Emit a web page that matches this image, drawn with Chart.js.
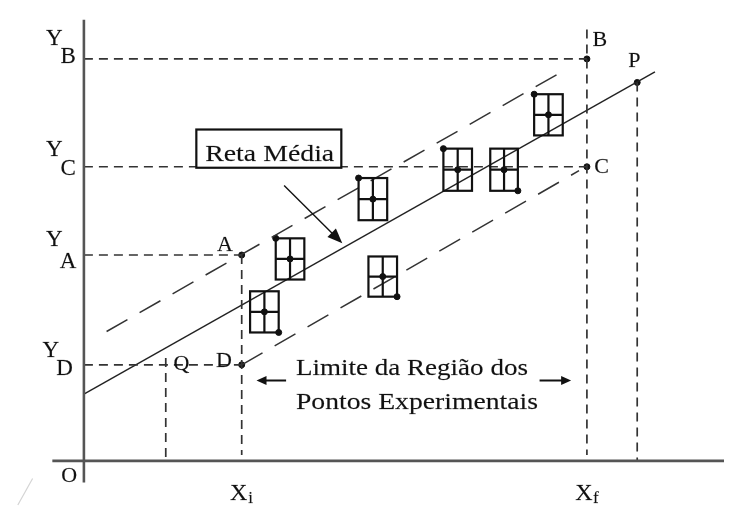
<!DOCTYPE html>
<html lang="pt">
<head>
<meta charset="UTF-8">
<title>Reta Média</title>
<script src="https://cdn.jsdelivr.net/npm/chart.js"></script>
<style>
    body { margin: 0; background: #fff; }
    canvas { display: block; }
</style>
</head>
<body>
<canvas id="chart" width="729" height="511"></canvas>
<script>
// experimental points (centre) with their uncertainty half-widths
const pointX = [18.3, 20.9, 29.3, 30.3, 37.9, 42.6, 47.1];
const pointY = [15.2, 20.6, 26.7, 18.8, 29.7, 29.7, 35.3];
const errX = [1.45, 1.45, 1.45, 1.45, 1.45, 1.4, 1.45];
const errY = [2.1, 2.1, 2.15, 2.05, 2.15, 2.15, 2.1];
const cornerDot = ['br', 'tl', 'tl', 'br', 'tl', 'br', 'tl'];

// levels marked on the y axis, limits on the x axis
const levelNames = ['B', 'C', 'A', 'D'];
const levelY = [41, 30, 21, 9.8];
const levelEndX = [51, 51, 16, 16];
const limitNames = ['i', 'f'];
const limitX = [16, 51];
const limitTopY = [21, 44];

// mean line y = a + b*x and the two extreme lines
const meanA = 6.8;
const meanB = 0.568;
const meanRange = [0, 57.9];
const upperX = [2.3, 49.0];
const upperY = [13.2, 40.0];
const lowerX = [16, 50.2];
const lowerY = [9.8, 29.6];

// extra points P and Q
const extraNames = ['P', 'Q'];
const extraX = [56.1, 8.3];
const extraY = [38.6, 9.8];
const extraTopY = [38.6, 10.5];

const INK = '#111';
const DASH = '#333';
const SERIF = "'Liberation Serif', 'Times New Roman', serif";

function seg(points, opts) {
    return Object.assign({
        data: points,
        showLine: true,
        pointRadius: 0,
        borderColor: DASH,
        borderWidth: 1.7,
        fill: false,
        tension: 0
    }, opts || {});
}

const datasets = [];

// axes
datasets.push(seg([{x: -3.2, y: 0}, {x: 64.9, y: 0}], {borderColor: '#555', borderWidth: 2.6}));
datasets.push(seg([{x: 0, y: -2.2}, {x: 0, y: 45}], {borderColor: '#555', borderWidth: 2.6}));

// horizontal guides from the y axis
levelY.forEach((v, i) => {
    datasets.push(seg([{x: 0, y: v}, {x: levelEndX[i], y: v}], {borderDash: [9, 6]}));
});
// vertical guides down to the x axis
limitX.forEach((v, i) => {
    datasets.push(seg([{x: v, y: limitTopY[i]}, {x: v, y: 0.6}], {borderDash: [9, 6]}));
});
extraX.forEach((v, i) => {
    datasets.push(seg([{x: v, y: extraTopY[i]}, {x: v, y: 0}], {borderDash: [9, 6]}));
});

// extreme lines (dashed) and mean line (solid)
datasets.push(seg(upperX.map((v, i) => ({x: v, y: upperY[i]})), {borderDash: [24, 14], borderWidth: 1.5}));
datasets.push(seg(lowerX.map((v, i) => ({x: v, y: lowerY[i]})), {borderDash: [24, 14], borderWidth: 1.5}));
datasets.push(seg(meanRange.map(v => ({x: v, y: meanA + meanB * v})), {borderColor: '#222', borderWidth: 1.4}));

// faint scan mark at the bottom left
datasets.push(seg([{x: -5.2, y: -1.8}, {x: -6.7, y: -4.5}], {borderColor: '#d4d4d4', borderWidth: 1.2}));

// centres of the experimental points
datasets.push({
    data: pointX.map((v, i) => ({x: v, y: pointY[i]})),
    pointRadius: 3, backgroundColor: INK, borderColor: INK
});
// corner dots of the uncertainty boxes
datasets.push({
    data: pointX.map((v, i) => ({
        x: cornerDot[i] === 'br' ? v + errX[i] : v - errX[i],
        y: cornerDot[i] === 'br' ? pointY[i] - errY[i] : pointY[i] + errY[i]
    })),
    pointRadius: 3, backgroundColor: INK, borderColor: INK
});
// A, B, C, D and P
datasets.push({
    data: [
        {x: levelEndX[2], y: levelY[2]}, {x: levelEndX[0], y: levelY[0]},
        {x: levelEndX[1], y: levelY[1]}, {x: levelEndX[3], y: levelY[3]},
        {x: extraX[0], y: extraY[0]}
    ],
    pointRadius: 3, backgroundColor: INK, borderColor: INK
});

function arrow(ctx, x1, y1, x2, y2, len, half) {
    const a = Math.atan2(y2 - y1, x2 - x1);
    ctx.beginPath();
    ctx.moveTo(x1, y1);
    ctx.lineTo(x2 - Math.cos(a) * len * 0.6, y2 - Math.sin(a) * len * 0.6);
    ctx.stroke();
    ctx.beginPath();
    ctx.moveTo(x2, y2);
    ctx.lineTo(x2 - Math.cos(a) * len - Math.sin(a) * half, y2 - Math.sin(a) * len + Math.cos(a) * half);
    ctx.lineTo(x2 - Math.cos(a) * len + Math.sin(a) * half, y2 - Math.sin(a) * len - Math.cos(a) * half);
    ctx.closePath();
    ctx.fill();
}

// text stretched to the width it has in the scan
function fitText(ctx, text, x, y, width) {
    const w = ctx.measureText(text).width;
    ctx.save();
    ctx.translate(x, y);
    ctx.scale(width / w, 1);
    ctx.fillText(text, 0, 0);
    ctx.strokeText(text, 0, 0);
    ctx.restore();
}

const sketch = {
    id: 'sketch',
    beforeDraw(chart) {
        const ctx = chart.ctx;
        ctx.save();
        ctx.fillStyle = '#fff';
        ctx.fillRect(0, 0, chart.width, chart.height);
        ctx.restore();
    },
    afterDatasetsDraw(chart) {
        const ctx = chart.ctx;
        const px = v => chart.scales.x.getPixelForValue(v);
        const py = v => chart.scales.y.getPixelForValue(v);
        ctx.save();

        // uncertainty boxes with a cross through the centre
        ctx.strokeStyle = INK;
        ctx.lineWidth = 2.2;
        pointX.forEach((cx, i) => {
            const l = px(cx - errX[i]), r = px(cx + errX[i]);
            const t = py(pointY[i] + errY[i]), b = py(pointY[i] - errY[i]);
            ctx.strokeRect(l, t, r - l, b - t);
            ctx.beginPath();
            ctx.moveTo(px(cx), t); ctx.lineTo(px(cx), b);
            ctx.moveTo(l, py(pointY[i])); ctx.lineTo(r, py(pointY[i]));
            ctx.stroke();
        });

        // "Reta Média" label box and its arrow
        const bl = px(11.4), br = px(26.1), bt = py(33.8), bb = py(29.9);
        ctx.fillStyle = '#fff';
        ctx.fillRect(bl, bt, br - bl, bb - bt);
        ctx.lineWidth = 2.2;
        ctx.strokeRect(bl, bt, br - bl, bb - bt);
        ctx.fillStyle = INK;
        ctx.strokeStyle = 'rgba(17,17,17,0.45)';
        ctx.textBaseline = 'alphabetic';
        ctx.textAlign = 'left';
        ctx.font = "24px " + SERIF;
        ctx.lineWidth = 0.3;
        fitText(ctx, 'Reta Média', px(12.3), py(30.6), 129);
        fitText(ctx, 'Limite da Região dos', px(21.5), py(8.8), 232);
        fitText(ctx, 'Pontos Experimentais', px(21.5), py(5.3), 242);

        ctx.strokeStyle = INK;
        ctx.lineWidth = 1.4;
        arrow(ctx, px(20.3), py(28.1), px(26.2), py(22.2), 15, 6);
        ctx.lineWidth = 2;
        arrow(ctx, px(20.5), py(8.2), px(17.5), py(8.2), 10, 4.5);
        arrow(ctx, px(46.2), py(8.2), px(49.4), py(8.2), 10, 4.5);

        // letters
        ctx.textAlign = 'center';
        ctx.textBaseline = 'middle';
        ctx.strokeStyle = 'rgba(17,17,17,0.45)';
        ctx.lineWidth = 0.3;
        const put = (t, x, y, size) => {
            ctx.font = size + "px " + SERIF;
            ctx.fillText(t, px(x), py(y));
            ctx.strokeText(t, px(x), py(y));
        };
        const yLabelPos = [[43.0, 41.2, 0], [31.7, 29.8, 0], [22.5, 20.3, 0], [11.2, 9.4, -0.35]];
        levelNames.forEach((n, i) => {
            const [yy, ys, dx] = yLabelPos[i];
            put('Y', -3.0 + dx, yy, 23);
            put(n, -1.6 + dx, ys, 23);
        });
        put('O', -1.5, -1.6, 22);
        limitNames.forEach((n, i) => {
            put('X', limitX[i] - 0.3, -3.3, 24);
            put(n, limitX[i] + 0.9, -3.85, 17);
        });
        put('A', 14.3, 22.0, 22);
        put('B', 52.3, 42.9, 22);
        put('C', 52.5, 30.0, 22);
        put('D', 14.2, 10.2, 22);
        put(extraNames[0], 55.8, 40.8, 22);
        put(extraNames[1], 9.9, 9.9, 22);

        ctx.restore();
    }
};

function draw() {
    new Chart(document.getElementById('chart'), {
        type: 'scatter',
        data: {datasets: datasets},
        options: {
            responsive: false,
            devicePixelRatio: 1,
            animation: false,
            layout: {padding: 0},
            plugins: {legend: {display: false}, tooltip: {enabled: false}},
            scales: {
                x: {type: 'linear', min: -8, max: 64.9, display: false},
                y: {type: 'linear', min: -4.6, max: 46.5, display: false}
            }
        },
        plugins: [sketch]
    });
}

// make sure the serif face is ready before the canvas text is drawn
document.fonts.load("24px 'Liberation Serif'").then(draw, draw);
</script>
</body>
</html>
